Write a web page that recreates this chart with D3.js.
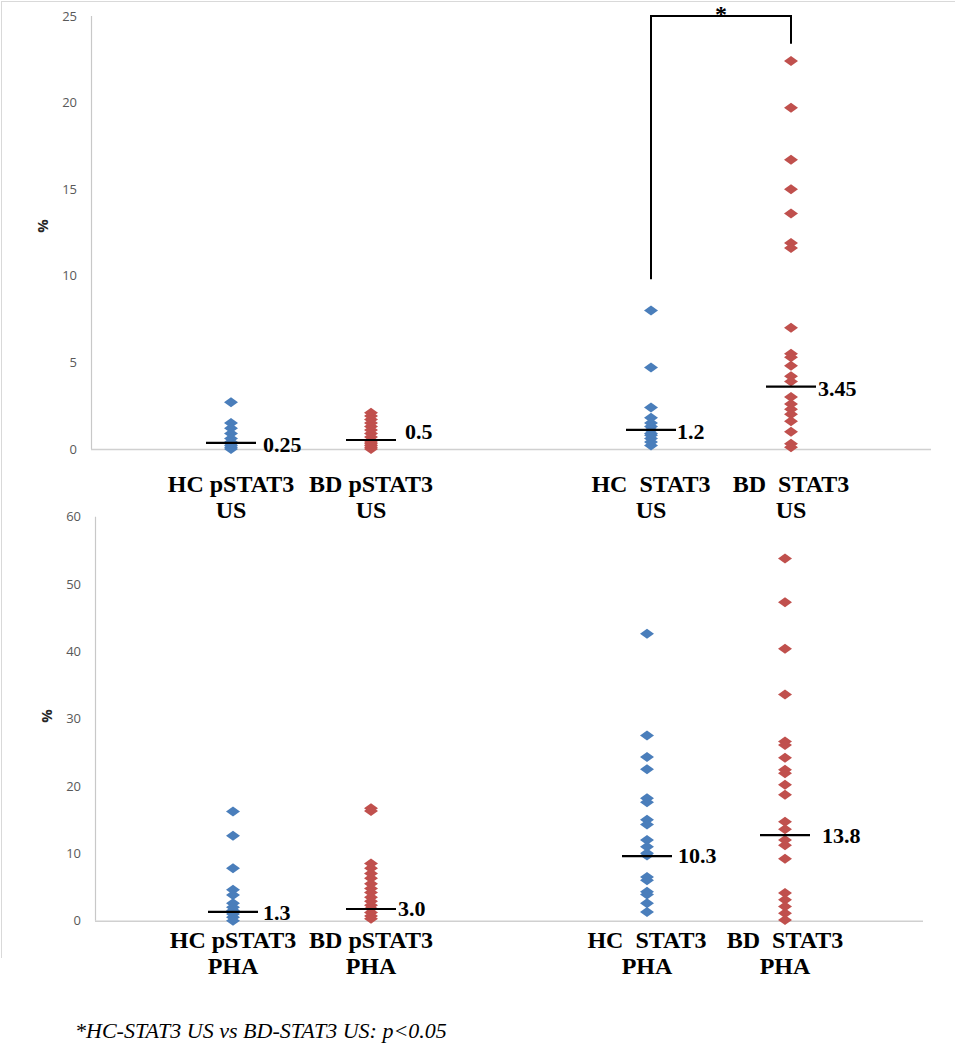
<!DOCTYPE html>
<html>
<head>
<meta charset="utf-8">
<script src="https://cdn.jsdelivr.net/npm/d3@7"></script>
<style>
  html, body { margin: 0; padding: 0; background: #fff; }
  svg { display: block; }
  .serif { font-family: "Liberation Serif", "Times New Roman", "DejaVu Serif", serif; }
  .sans { font-family: "Open Sans", "DejaVu Sans", sans-serif; }
</style>
</head>
<body>
<svg id="chart" width="956" height="1050"></svg>
<script>
// ---------------- DATA ----------------
const topCategories = [["HC pSTAT3", "US"], ["BD pSTAT3", "US"], ["HC  STAT3", "US"], ["BD  STAT3", "US"]];
const bottomCategories = [["HC pSTAT3", "PHA"], ["BD pSTAT3", "PHA"], ["HC  STAT3", "PHA"], ["BD  STAT3", "PHA"]];
const categorySlots = [1, 2, 4, 5];
const groupColors = ["hc", "bd", "hc", "bd"];

const topTicks = [0, 5, 10, 15, 20, 25];
const bottomTicks = [0, 10, 20, 30, 40, 50, 60];

// Top panel (unstimulated, US)
const hcPSTAT3_US = [2.7, 1.5, 1.2, 0.9, 0.6, 0.4, 0.3, 0.2, 0.1, 0.0];
const bdPSTAT3_US = [2.1, 1.9, 1.7, 1.5, 1.3, 1.1, 0.9, 0.7, 0.5, 0.4, 0.3, 0.2, 0.1, 0.0];
const hcSTAT3_US = [8.0, 4.7, 2.4, 1.8, 1.5, 1.3, 1.1, 0.9, 0.8, 0.6, 0.4, 0.2];
const bdSTAT3_US = [22.4, 19.7, 16.7, 15.0, 13.6, 11.9, 11.6, 7.0, 5.5, 5.3, 4.8, 4.2, 3.9, 3.0, 2.6, 2.3, 2.0, 1.6, 1.0, 0.3, 0.1];

// Bottom panel (PHA stimulated)
const hcPSTAT3_PHA = [16.2, 12.6, 7.8, 4.6, 3.8, 2.6, 2.0, 1.5, 1.0, 0.5, 0.0];
const bdPSTAT3_PHA = [16.7, 16.3, 8.5, 7.8, 7.0, 6.3, 5.5, 4.8, 4.2, 3.5, 2.9, 2.3, 1.8, 1.2, 0.7, 0.3];
const hcSTAT3_PHA = [42.6, 27.5, 24.3, 22.5, 18.2, 17.6, 15.0, 14.3, 12.0, 11.0, 10.0, 9.7, 6.5, 6.0, 4.3, 3.9, 2.6, 1.3];
const bdSTAT3_PHA = [53.8, 47.3, 40.4, 33.6, 26.6, 26.1, 24.2, 22.4, 21.9, 20.2, 18.7, 14.7, 13.6, 12.0, 11.2, 9.2, 4.1, 3.1, 2.1, 1.1, 0.1];

// Median lines and their labels
const topMedians = [0.35, 0.52, 1.1, 3.6];
const topMedianLabels = ["0.25", "0.5", "1.2", "3.45"];
const bottomMedians = [1.3, 1.74, 9.6, 12.7];
const bottomMedianLabels = ["1.3", "3.0", "10.3", "13.8"];

// Significance bracket (HC STAT3 US vs BD STAT3 US): left end, top, right end
const bracketValues = [9.8, 25, 23.4];
const footnote = "*HC-STAT3 US vs BD-STAT3 US: p<0.05";

// ---------------- STYLE / LAYOUT ----------------
const colors = { hc: "#4a7ebb", bd: "#c0504d" };
const svg = d3.select("#chart");

// frame
svg.append("line").attr("x1", 1.5).attr("x2", 1.5).attr("y1", 1).attr("y2", 958).attr("stroke", "#d9d9d9");
svg.append("line").attr("x1", 1).attr("x2", 955).attr("y1", 1.5).attr("y2", 1.5).attr("stroke", "#d9d9d9");

function diamondPath(w, h) {
  return `M0,${-h/2}L${w/2},0L0,${h/2}L${-w/2},0Z`;
}

const panels = [
  { xr: [91, 931], yr: [449, 16], domain: [0, 25], ticks: topTicks,
    series: [hcPSTAT3_US, bdPSTAT3_US, hcSTAT3_US, bdSTAT3_US],
    medians: topMedians, labels: topMedianLabels, cats: topCategories,
    labelDx: [7, 9, 1, 2], labelDy: [2, -8, 2, 2],
    catY: 492, pctY: 226, pctX: 48 },
  { xr: [95, 923], yr: [920.7, 516.7], domain: [0, 60], ticks: bottomTicks,
    series: [hcPSTAT3_PHA, bdPSTAT3_PHA, hcSTAT3_PHA, bdSTAT3_PHA],
    medians: bottomMedians, labels: bottomMedianLabels, cats: bottomCategories,
    labelDx: [5, 2, 6, 12], labelDy: [1, 0, -1, 0],
    catY: 948, pctY: 716, pctX: 52 }
];

panels.forEach((p, pi) => {
  const x = d3.scaleLinear().domain([0, 6]).range(p.xr);
  const y = d3.scaleLinear().domain(p.domain).range(p.yr);
  const g = svg.append("g");

  // y axis
  const ax = g.append("g").attr("transform", `translate(${p.xr[0]},0)`)
    .call(d3.axisLeft(y).tickValues(p.ticks).tickSize(0).tickPadding(14));
  ax.select(".domain").remove();
  ax.selectAll("text").attr("fill", "#595959").attr("class", "sans")
    .attr("font-family", null).style("font-size", "13px");
  g.append("line").attr("x1", p.xr[0] + 0.5).attr("x2", p.xr[0] + 0.5)
    .attr("y1", y(p.domain[1])).attr("y2", y(0)).attr("stroke", "#c8c8c8").attr("stroke-width", 1.2);
  // baseline
  g.append("line").attr("x1", p.xr[0]).attr("x2", p.xr[1])
    .attr("y1", y(0) + 0.5).attr("y2", y(0) + 0.5).attr("stroke", "#d0d0d0").attr("stroke-width", 1.5);

  // axis title
  g.append("text").attr("transform", `translate(${p.pctX},${p.pctY}) rotate(-90)`)
    .attr("text-anchor", "middle").attr("class", "sans")
    .style("font-weight", "bold").style("font-size", "15px").attr("fill", "#262626").text("%");

  // points
  p.series.forEach((vals, si) => {
    g.append("g").selectAll("path").data(vals).join("path")
      .attr("d", diamondPath(14, 10))
      .attr("transform", d => `translate(${x(categorySlots[si])},${y(d)})`)
      .attr("fill", colors[groupColors[si]]);
  });

  // median lines + labels
  p.medians.forEach((m, si) => {
    const cx = x(categorySlots[si]);
    g.append("line").attr("x1", cx - 25).attr("x2", cx + 25)
      .attr("y1", y(m)).attr("y2", y(m)).attr("stroke", "#000").attr("stroke-width", 2.2);
    g.append("text").attr("x", cx + 25 + p.labelDx[si]).attr("y", y(m) + p.labelDy[si])
      .attr("dominant-baseline", "central").attr("class", "serif")
      .style("font-weight", "bold").style("font-size", "22px").attr("fill", "#000")
      .text(p.labels[si]);
  });

  // category labels
  p.cats.forEach((lines, si) => {
    const t = g.append("text").attr("text-anchor", "middle").attr("class", "serif")
      .style("font-weight", "bold").style("font-size", "24px").attr("fill", "#000")
      .style("white-space", "pre").attr("xml:space", "preserve");
    lines.forEach((ln, li) => {
      t.append("tspan").attr("x", x(categorySlots[si])).attr("y", p.catY + li * 26).text(ln);
    });
  });

  // significance bracket on top panel
  if (pi === 0) {
    const x1 = x(categorySlots[2]), x2 = x(categorySlots[3]);
    const path = d3.path();
    path.moveTo(x1, y(bracketValues[0]));
    path.lineTo(x1, y(bracketValues[1]));
    path.lineTo(x2, y(bracketValues[1]));
    path.lineTo(x2, y(bracketValues[2]));
    g.append("path").attr("d", path.toString()).attr("fill", "none")
      .attr("stroke", "#000").attr("stroke-width", 2);
    g.append("text").attr("x", (x1 + x2) / 2).attr("y", y(bracketValues[1]) + 6)
      .attr("text-anchor", "middle").attr("class", "serif")
      .style("font-weight", "bold").style("font-size", "24px").text("*");
  }
});

// footnote
svg.append("text").attr("x", 75).attr("y", 1038).attr("class", "serif")
  .style("font-style", "italic").style("font-size", "22px").attr("fill", "#000")
  .text(footnote);
</script>
</body>
</html>
